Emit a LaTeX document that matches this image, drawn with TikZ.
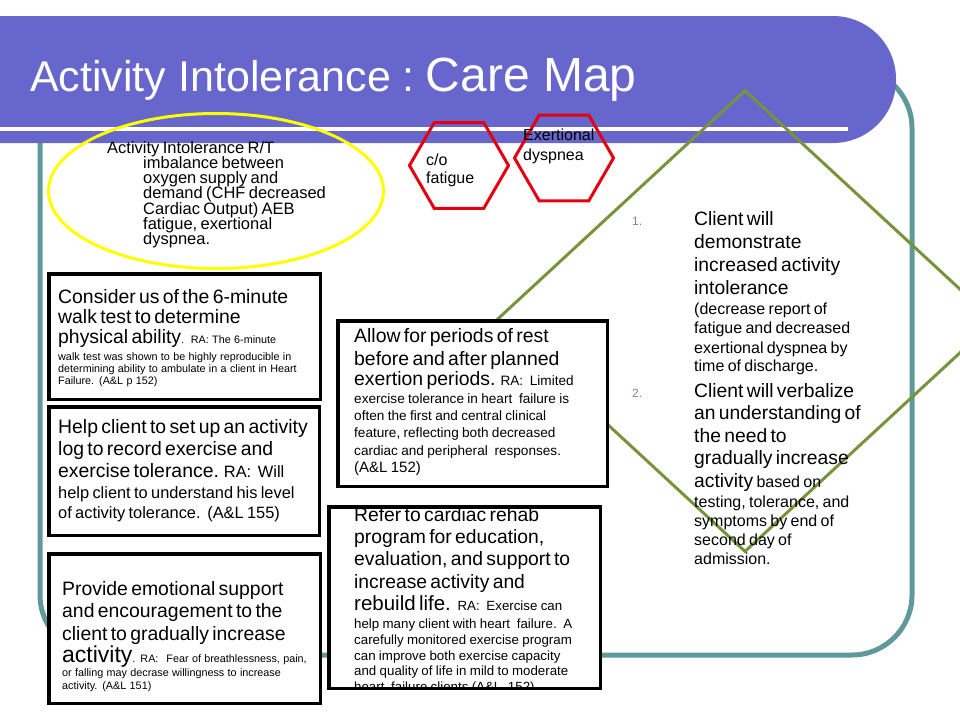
\documentclass[tikz,border=0pt]{standalone}
\usepackage{fontspec}
\setmainfont{Liberation Sans}
\usetikzlibrary{shapes.geometric,positioning,calc}
\definecolor{bannerblue}{HTML}{6666CC}
\definecolor{frameteal}{HTML}{5F9999}
\definecolor{cuered}{HTML}{E3000F}
\definecolor{goalgreen}{HTML}{77933C}
\definecolor{probyellow}{HTML}{FFFF00}
\definecolor{numgray}{HTML}{977A8C}
\newcommand\rasize[2]{\fontsize{#1}{#2}\selectfont\lineskiplimit=-20pt\relax}

\begin{document}
\begin{tikzpicture}[x=1pt, y=-1pt,
        carebox/.style={draw=black, line width=3.5pt, fill=white, rectangle, inner sep=0pt},
        boxtext/.style={anchor=base west, inner sep=0pt, text width=275pt, align=left},
        cue/.style={regular polygon, regular polygon sides=6, minimum size=99pt,
                    draw=cuered, line width=3pt, inner sep=0pt}]
        \useasboundingbox (0,0) rectangle (960,720);
        \clip (0,0) rectangle (960,720);
        % slide frame and banner
        \draw[frameteal, line width=5pt, rounded corners=60pt] (40,68) rectangle (912,655);
        \fill[bannerblue, rounded corners=63pt] (-80,16) rectangle (896,143);
        \draw[white, line width=4pt] (0,128.5) -- (848,128.5);
        \node[anchor=base west, inner sep=0pt, text=white] (title) at (30,91)
            {\fontsize{43}{50}\selectfont Activity Intolerance : \hspace{-5pt}{\fontsize{48}{55}\selectfont Care Map}};

        % problem and cues
        \node[ellipse, draw=probyellow, line width=3pt, minimum width=335pt, minimum height=155pt] (problem) at (216,191) {};
        \node[boxtext, text width=250pt] (problemtext) at (107,153)
            {\rasize{16.5}{15.3}Activity Intolerance R/T\par
             \leftskip=36pt imbalance between\par oxygen supply and\par demand (CHF decreased\par
             Cardiac Output) AEB\par fatigue, exertional\par dyspnea.\par};
        \node[cue] (fatigue) at (459,165.5) {};
        \node[cue] (dyspnea) at (564,158) {};
        \node[boxtext, text width=80pt] (fatiguetext) at (426,165) {\rasize{16}{18}c/o\par fatigue\par};
        \node[boxtext, text width=90pt] (dyspneatext) at (523,140) {\rasize{16}{20}Exertional\par dyspnea\par};

        % goals
        \node[diamond, draw=goalgreen, line width=3pt, minimum width=500pt, minimum height=462pt, inner sep=0pt] (goals) at (745,321) {};

        % interventions
        \node[carebox, minimum width=271.5pt, minimum height=125.5pt] (walktest) at (184.5,336.5) {};
        \node[boxtext] (walktesttext) at (58,303)
            {\rasize{19.4}{20}Consider us of the 6-minute\par walk test to determine\par
             physical ability{\rasize{10.8}{12}.\ \ RA: The 6-minute}\par
             \rasize{10.8}{17}walk test was shown to be highly reproducible in\par
             \baselineskip=12pt determining ability to ambulate in a client in Heart\par
             Failure. (A\&L p 152)\par};
        \node[carebox, minimum width=270.5pt, minimum height=128.5pt] (actlog) at (184,471) {};
        \node[boxtext] (actlogtext) at (58,433)
            {\rasize{19.4}{22}Help client to set up an activity\par log to record exercise and\par
             exercise tolerance. {\rasize{16.4}{20}RA:\ \ Will}\par
             \rasize{16.4}{21}help client to understand his level\par
             \baselineskip=20pt of activity tolerance.\ \ (A\&L 155)\par};
        \node[carebox, minimum width=271.5pt, minimum height=149.5pt] (support) at (184.5,628.5) {};
        \node[boxtext] (supporttext) at (62,595)
            {\rasize{19.4}{22.5}Provide emotional support\par and encouragement to the\par
             client to gradually increase\par
             {\rasize{23}{23}activity}{\rasize{10.8}{13}. RA:\hspace{8pt}Fear of breathlessness, pain,}\par
             \rasize{10.8}{14}or falling may decrase willingness to increase\par
             \baselineskip=13pt activity. (A\&L 151)\par};
        \node[carebox, minimum width=269.5pt, minimum height=165.5pt] (rest) at (472.5,403.5) {};
        \node[boxtext] (resttext) at (354,342)
            {\rasize{19.4}{23}Allow for periods of rest\par before and after planned\par
             \baselineskip=20pt exertion periods. {\rasize{13.6}{17}RA:\ \ Limited}\par
             \rasize{13.6}{18}exercise tolerance in heart\ \ failure is\par
             \baselineskip=17pt often the first and central clinical\par
             feature, reflecting both decreased\par
             \baselineskip=18pt cardiac and peripheral\ \ responses.\par
             \rasize{15}{17}(A\&L 152)\par};
        \node[carebox, minimum width=271.5pt, minimum height=181.5pt] (rehab) at (464.5,597.5) {};
        \begin{scope}
            \clip (329,507) rectangle (600,687);
            \node[boxtext] (rehabtext) at (354,521)
                {\rasize{19.3}{22.4}Refer to cardiac rehab\par program for education,\par
                 evaluation, and support to\par increase activity and\par
                 {\rasize{20.5}{22}rebuild life.}\ \ {\rasize{13.3}{15.7}RA:\ \ Exercise can}\par
                 \rasize{13.3}{18}help many client with heart\ \ failure.\ \ A\par
                 \baselineskip=15.7pt carefully monitored exercise program\par
                 can improve both exercise capacity\par
                 and quality of life in mild to moderate\par
                 heart\ \ failure clients (A\&L\ \ 152)\par};
        \end{scope}

        % outcomes inside the diamond
        \node[anchor=base west, inner sep=0pt, text=numgray] (numone) at (632,225) {\rasize{12}{14}1.};
        \node[boxtext, text width=220pt] (goalone) at (694,225)
            {\rasize{19.3}{23}Client will\par demonstrate\par increased activity\par intolerance\par
             \rasize{16}{20}(decrease report of\par
             \baselineskip=19.5pt fatigue and decreased\par exertional dyspnea by\par
             \baselineskip=18pt time of discharge.\par};
        \node[anchor=base west, inner sep=0pt, text=numgray] (numtwo) at (632,397) {\rasize{12}{14}2.};
        \node[boxtext, text width=220pt] (goaltwo) at (694,397)
            {\rasize{19.3}{22.5}Client will verbalize\par an understanding of\par the need to\par
             gradually increase\par activity {\rasize{16}{19}based on}\par
             \rasize{16}{20}testing, tolerance, and\par
             \baselineskip=19pt symptoms by end of\par second day of\par admission.\par};
\end{tikzpicture}
\end{document}
